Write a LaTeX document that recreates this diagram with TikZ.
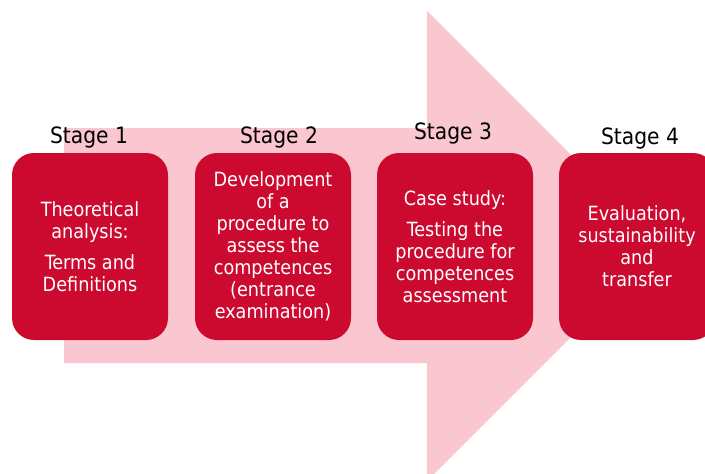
\documentclass[tikz,border=0pt]{standalone}
\usepackage{fontspec}
\setmainfont{DejaVu Sans Condensed}
\definecolor{stagered}{RGB}{204,10,47}
\definecolor{arrowpink}{RGB}{250,198,208}

\begin{document}
\begin{tikzpicture}[x=1pt,y=-1pt,
    stagebox/.style={fill=stagered, rounded corners=22pt, minimum width=156pt,
      minimum height=187pt, inner sep=0pt, text=white, align=center,
      font=\fontsize{19.6}{22}\selectfont},
    stagelabel/.style={font=\fontsize{22.5}{24}\selectfont}]
  \useasboundingbox (0,0) rectangle (705,474);
  \clip (0,0) rectangle (705,474);
  % big arrow behind the stages
  \fill[arrowpink] (64,128) -- (427,128) -- (427,11) -- (662,246)
    -- (427,481) -- (427,363) -- (64,363) -- cycle;
  % stages
  \node[stagebox] (box1) at (90,246.5) {Theoretical\\analysis:\\[9pt]Terms and\\Definitions};
  \node[stagebox] (box2) at (273,246.5) {Development\\of a\\procedure to\\assess the\\competences\\(entrance\\examination)};
  \node[stagebox] (box3) at (455,246.5) {Case study:\\[9pt]Testing the\\procedure for\\competences\\assessment};
  \node[stagebox] (box4) at (637,246.5) {Evaluation,\\sustainability\\and\\transfer};
  \node[stagelabel] (stage1) at (89,137) {Stage 1};
  \node[stagelabel] (stage2) at (279,137) {Stage 2};
  \node[stagelabel] (stage3) at (453,133) {Stage 3};
  \node[stagelabel] (stage4) at (640,138) {Stage 4};
\end{tikzpicture}
\end{document}
